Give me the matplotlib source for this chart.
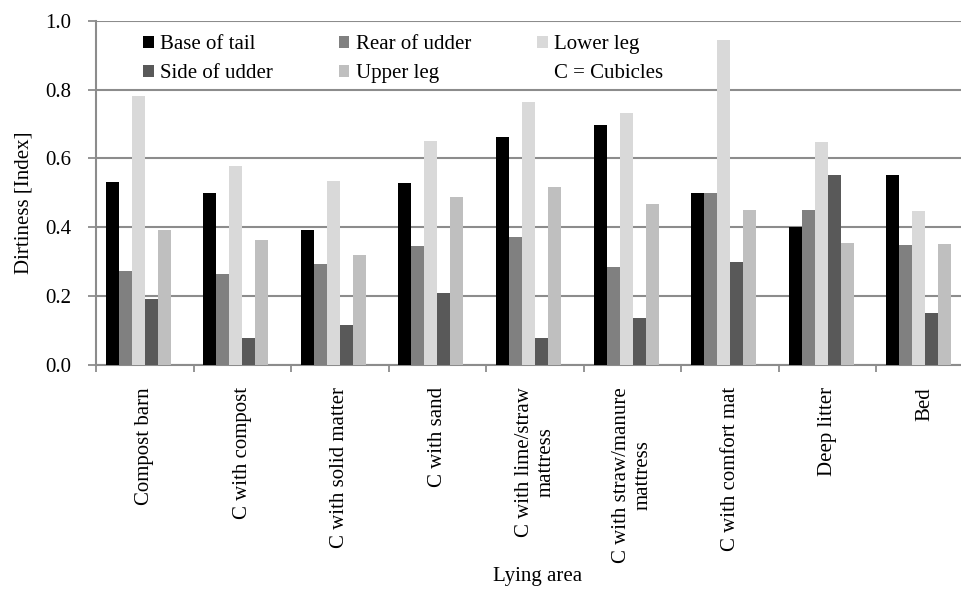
import matplotlib
matplotlib.use("Agg")
import matplotlib.pyplot as plt
import numpy as np
from matplotlib.patches import Patch

plt.rcParams['font.family'] = ['Liberation Serif', 'DejaVu Serif']

categories = ["Compost barn", "C with compost", "C with solid matter", "C with sand",
              "C with lime/straw\nmattress", "C with straw/manure\nmattress",
              "C with comfort mat", "Deep litter", "Bed"]
series_names = ["Base of tail", "Rear of udder", "Lower leg", "Side of udder", "Upper leg"]
base_of_tail  = [0.531, 0.500, 0.392, 0.529, 0.662, 0.697, 0.500, 0.401, 0.552]
rear_of_udder = [0.273, 0.264, 0.293, 0.346, 0.372, 0.285, 0.500, 0.450, 0.349]
lower_leg     = [0.781, 0.578, 0.534, 0.650, 0.764, 0.732, 0.944, 0.648, 0.447]
side_of_udder = [0.192, 0.078, 0.116, 0.209, 0.078, 0.136, 0.299, 0.552, 0.151]
upper_leg     = [0.392, 0.363, 0.319, 0.488, 0.517, 0.468, 0.450, 0.354, 0.351]
colors = ["#000000", "#808080", "#d9d9d9", "#595959", "#bfbfbf"]
yticks = [0.0, 0.2, 0.4, 0.6, 0.8, 1.0]

values = [base_of_tail, rear_of_udder, lower_leg, side_of_udder, upper_leg]

FS = 15
W, H = 961, 594
fig = plt.figure(figsize=(W / 100, H / 100), dpi=100)
left, right, top, bottom = 96, 974, 20.7, 365
ax = fig.add_axes([left / W, 1 - bottom / H, (right - left) / W, (bottom - top) / H])

n_slots = 6  # 5 series + empty "C = Cubicles" entry
w = 1 / (n_slots + 1.5)
x = np.arange(len(categories))
handles = []
for i, (name, vals, c) in enumerate(zip(series_names, values, colors)):
    off = -0.5 + w * (0.75 + i + 0.5)
    ax.bar(x + off, vals, width=w, color=c, zorder=3, linewidth=0)
    handles.append(Patch(facecolor=c, edgecolor='none', label=name))
handles.append(Patch(facecolor='none', edgecolor='none', label="C = Cubicles"))

ax.set_xlim(-0.5, len(categories) - 0.5)
ax.set_ylim(0, 1.0)
ax.set_yticks(yticks)
ax.set_yticklabels([f"{t:.1f}" for t in yticks])
ax.set_xticks(np.arange(len(categories) + 1) - 0.5)
ax.set_xticklabels([])
ax.set_xticks(x, minor=True)
ax.set_xticklabels(categories, minor=True, rotation=90, ha='center', va='top',
                   multialignment='center', fontsize=FS)
ax.tick_params(axis='x', which='minor', length=0, pad=16)
ax.tick_params(axis='x', which='major', length=5, width=1.3, color='#8c8c8c', direction='out')
ax.tick_params(axis='y', length=6, width=1.3, color='#8c8c8c', direction='out',
               labelsize=FS, pad=12)

ax.grid(axis='y', color='#8c8c8c', linewidth=1.5, zorder=0)
ax.set_axisbelow(True)
for s in ['top', 'right']:
    ax.spines[s].set_visible(False)
for s in ['left', 'bottom']:
    ax.spines[s].set_color('#8c8c8c')
    ax.spines[s].set_linewidth(1.5)

fig.text(24 / W, 1 - 203 / H, "Dirtiness [Index]", rotation=90, ha='center', va='center',
         fontsize=FS)
fig.text(538 / W, 1 - 576 / H, "Lying area", ha='center', va='center', fontsize=FS)

# legend: row-major order requires column-major reordering
order = [0, 3, 1, 4, 2, 5]
leg = ax.legend([handles[k] for k in order], [handles[k].get_label() for k in order],
                ncol=3, loc='upper left', bbox_to_anchor=(143 / W, 1 - 35 / H),
                bbox_transform=fig.transFigure, frameon=False, fontsize=FS,
                handlelength=0.52, handleheight=0.52, handletextpad=0.3,
                columnspacing=3.15, labelspacing=0.5, borderpad=0, borderaxespad=0)

fig.savefig("out.png", dpi=100)
